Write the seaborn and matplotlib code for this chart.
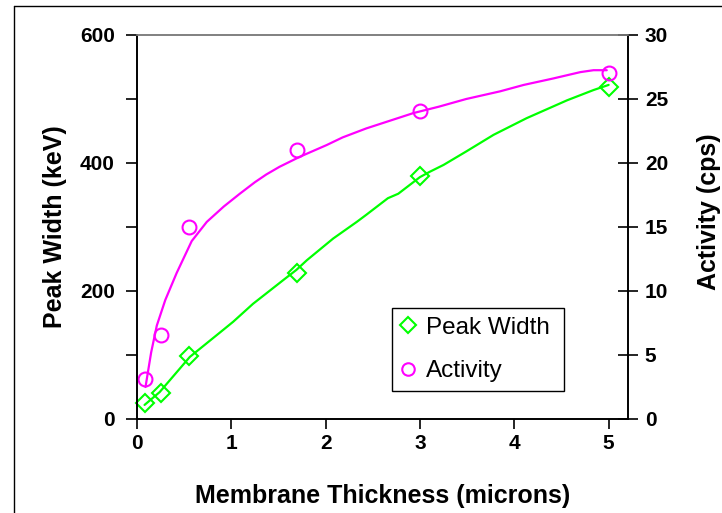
import matplotlib
matplotlib.use("Agg")
import matplotlib.pyplot as plt
from matplotlib.lines import Line2D
from matplotlib.ticker import MultipleLocator
import seaborn as sns
import pandas as pd

# Measured points
thickness = [0.08, 0.25, 0.55, 1.7, 3.0, 5.0]
peak_width = [25, 40, 98, 228, 380, 518]
activity = [3.1, 6.6, 15.0, 21.0, 24.1, 27.0]

# Trend curves through the measurements
pw_curve_x = [0.08, 0.24, 0.56, 0.92, 1.02, 1.23, 1.36, 1.55, 1.69, 1.80, 2.08,
              2.33, 2.43, 2.66, 2.77, 3.0, 3.1, 3.25, 3.49, 3.78, 4.13, 4.56,
              4.84, 5.0]
pw_curve_y = [22, 42, 97, 140, 152, 180, 195, 217, 233, 248, 282,
              308, 319, 345, 352, 378, 386, 397, 418, 444, 470, 498,
              514, 522]
act_curve_x = [0.09, 0.15, 0.21, 0.30, 0.42, 0.58, 0.74, 0.92, 1.09, 1.25, 1.37,
               1.51, 1.73, 2.01, 2.18, 2.43, 2.68, 2.93, 3.2, 3.49, 3.85, 4.1,
               4.41, 4.7, 4.84, 4.98]
act_curve_y = [2.5, 5.2, 7.3, 9.3, 11.4, 13.9, 15.4, 16.6, 17.6, 18.5, 19.1,
               19.7, 20.5, 21.4, 22.0, 22.7, 23.3, 23.9, 24.4, 25.0, 25.6, 26.1,
               26.6, 27.1, 27.25, 27.25]

x_ticks = [0, 1, 2, 3, 4, 5]
left_ticks = [0, 200, 400, 600]
right_ticks = [0, 5, 10, 15, 20, 25, 30]

GREEN = "#00FF00"
MAGENTA = "#FF00FF"

sns.set_theme(style="white")
plt.rcParams["font.family"] = ["Liberation Sans", "DejaVu Sans"]
plt.rcParams.update({
    "text.color": "black",
    "axes.labelcolor": "black",
    "xtick.color": "black",
    "ytick.color": "black",
})

points = pd.DataFrame({"t": thickness, "pw": peak_width, "act": activity})
pw_curve = pd.DataFrame({"t": pw_curve_x, "v": pw_curve_y})
act_curve = pd.DataFrame({"t": act_curve_x, "v": act_curve_y})

fig = plt.figure(figsize=(7.22, 5.13), dpi=100)
ax = fig.add_axes([137 / 722, 1 - 419 / 513, 490.5 / 722, 384 / 513])
ax2 = ax.twinx()

sns.lineplot(data=pw_curve, x="t", y="v", ax=ax, color=GREEN, lw=1.6,
             sort=False, estimator=None)
ax.plot(points["t"], points["pw"], ls="none", marker="D", ms=9.5,
        mfc="none", mec=GREEN, mew=1.5, clip_on=False)

sns.lineplot(data=act_curve, x="t", y="v", ax=ax2, color=MAGENTA, lw=1.6,
             sort=False, estimator=None)
ax2.plot(points["t"], points["act"], ls="none", marker="o", ms=10,
         mfc="none", mec=MAGENTA, mew=1.5, clip_on=False)

ax.set_xlim(0, 5.2)
ax.set_ylim(0, 600)
ax2.set_ylim(0, 30)

ax.set_xticks(x_ticks)
ax.set_yticks(left_ticks)
ax.yaxis.set_minor_locator(MultipleLocator(100))
ax2.set_yticks(right_ticks)

tick_font = dict(fontsize=15, fontweight="bold", color="black")
ax.set_xticklabels([str(v) for v in x_ticks], **tick_font)
ax.set_yticklabels([str(v) for v in left_ticks], **tick_font)
ax2.set_yticklabels([str(v) for v in right_ticks], **tick_font)

ax.tick_params(axis="x", direction="out", length=7, width=1.2, pad=4,
               color="black", bottom=True)
ax.tick_params(axis="y", which="both", direction="out", length=8, width=1.2,
               pad=8, color="black", left=True)
ax2.tick_params(axis="y", direction="inout", length=15, width=1.2, pad=5,
                color="black", right=True)

for a in (ax, ax2):
    for side in ("left", "bottom", "right"):
        a.spines[side].set_color("black")
        a.spines[side].set_linewidth(1.2)
    a.spines["top"].set_color("#808080")
    a.spines["top"].set_linewidth(1.2)

label_font = dict(fontweight="bold", color="black")
ax.set_xlabel("Membrane Thickness (microns)", fontsize=18, **label_font)
ax.set_ylabel("Peak Width (keV)", fontsize=18, **label_font)
ax2.set_ylabel("Activity (cps)", fontsize=18, **label_font)
ax.xaxis.set_label_coords(0.5, -0.168)
ax.yaxis.set_label_coords(-0.143, 0.5)
ax2.yaxis.set_label_coords(1.142, 0.54)

handles = [
    Line2D([], [], ls="none", marker="D", ms=8, mfc="none", mec=GREEN, mew=1.5),
    Line2D([], [], ls="none", marker="o", ms=9, mfc="none", mec=MAGENTA, mew=1.5),
]
leg = fig.legend(handles, ["Peak Width", "Activity"], loc="upper left",
                 bbox_to_anchor=(392 / 722, 1 - 390 / 513, 172 / 722, 82 / 513),
                 mode="expand", borderaxespad=0,
                 fontsize=17.5, frameon=True, fancybox=False, shadow=False,
                 handlelength=0.6, handletextpad=0.45, labelspacing=0.9,
                 borderpad=0.35)
leg.get_frame().set_edgecolor("black")
leg.get_frame().set_linewidth(1.0)
leg.get_frame().set_facecolor("white")
leg.get_frame().set_alpha(1)
for txt in leg.get_texts():
    txt.set_color("black")

# Outer chart frame (left and top edges)
fig.add_artist(Line2D([14 / 722, 14 / 722], [0, 1 - 6 / 513], color="black",
                      lw=1.0, transform=fig.transFigure))
fig.add_artist(Line2D([14 / 722, 1], [1 - 6 / 513, 1 - 6 / 513], color="black",
                      lw=1.0, transform=fig.transFigure))

fig.savefig("out.png", dpi=100)
